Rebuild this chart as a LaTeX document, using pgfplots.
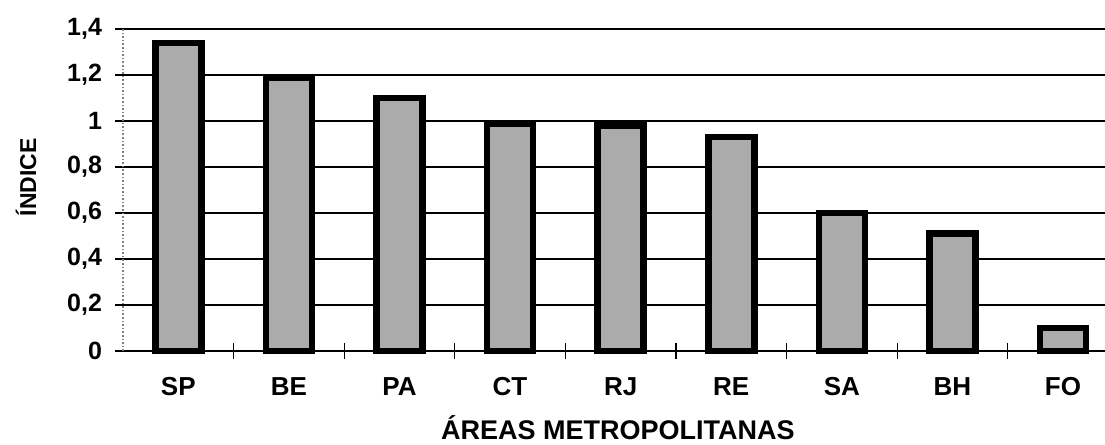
\documentclass[border=0pt]{standalone}
\usepackage{pgfplots}
\pgfplotsset{compat=1.18}
\usepackage{fontspec}
\setmainfont{Liberation Sans}
\begin{document}
\begin{tikzpicture}
\begin{axis}[
  scale only axis,
  width=491pt, height=161pt,
  xmin=-0.5, xmax=8.38,
  ymin=0, ymax=1.4,
  ytick={0,0.2,...,1.4},
  xtick={0.5,1.5,...,7.5},
  xticklabels={},
  extra x ticks={0,...,8},
  extra x tick labels={SP,BE,PA,CT,RJ,RE,SA,BH,FO},
  extra x tick style={major tick length=0pt, grid=none},
  tick style={black, line width=0.6pt},
  major tick length=8pt,
  tick align=center,
  axis x line*=bottom,
  axis y line*=left,
  axis line style={-},
  x axis line style={black, line width=1pt},
  y axis line style={gray, densely dotted, line width=0.8pt},
  ymajorgrids,
  major grid style={black, line width=0.6pt},
  /pgf/number format/use comma,
  /pgf/number format/assume math mode=true,
  xticklabel style={font=\fontsize{13}{15}\selectfont\bfseries, anchor=base, yshift=-22pt},
  yticklabel style={font=\fontsize{12.5}{14}\selectfont\bfseries, xshift=-3pt},
  xlabel={ÁREAS METROPOLITANAS},
  ylabel={ÍNDICE},
  xlabel style={font=\fontsize{13.5}{15}\selectfont\bfseries, at={(axis description cs:0.504,-0.239)}, anchor=center},
  ylabel style={font=\fontsize{11.5}{14}\selectfont\bfseries, at={(axis description cs:-0.0988,0.54)}, anchor=center},
  clip=false,
]
\addplot[ybar, bar width=23pt, draw=black, line width=3.3pt, fill=black!33]
  coordinates {(0,1.34) (1,1.19) (2,1.10) (3,0.99) (4,0.98) (5,0.93) (6,0.60) (7,0.51) (8,0.10)};
\end{axis}
\pgfresetboundingbox
\path (-61.5pt,-47pt) rectangle (491pt,175.5pt);
\end{tikzpicture}
\end{document}
